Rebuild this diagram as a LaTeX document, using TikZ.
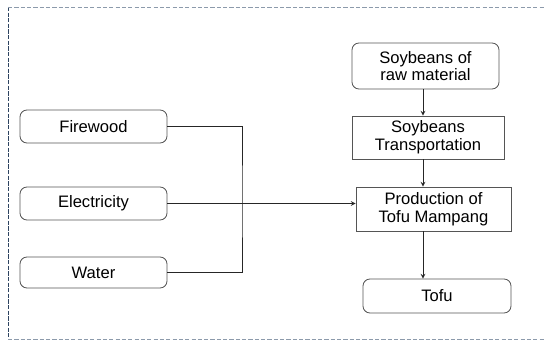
\documentclass[tikz,border=0pt]{standalone}
\usepackage{fontspec}
\setmainfont{Liberation Sans}
\usepackage{xcolor}
\usepackage{tikz}
\usetikzlibrary{positioning}
\definecolor{boxline}{HTML}{555555}
\definecolor{wire}{HTML}{262626}
\definecolor{frameleft}{HTML}{2E4461}
\definecolor{frameedge}{HTML}{8C9AAB}

\begin{document}
\begin{tikzpicture}[
        x=0.025cm, y=-0.025cm,
        every node/.style={
            rectangle,
            draw=boxline,
            line width=0.6pt,
            text=black,
            align=center,
            font=\fontsize{11.8}{12.6}\selectfont,
            inner sep=2pt,
            anchor=center
        },
        roundbox/.style={
            rounded corners=5pt,
            minimum width=3.675cm
        },
        sharpbox/.style={
            sharp corners
        },
        arrow/.style={
            ->,
            >=stealth,
            line width=0.5pt,
            color=wire
        },
        link/.style={
            line width=0.5pt,
            color=wire
        }
    ]
        \useasboundingbox (0,0) rectangle (547,340);

        % Frame
        \draw[frameleft, line width=0.6pt, dash pattern=on 3pt off 1pt] (8,7) -- (8,339);
        \draw[frameedge, line width=0.6pt, dash pattern=on 3pt off 1.5pt] (8,7) -- (545,7);
        \draw[frameedge, line width=0.6pt, dash pattern=on 3pt off 1.5pt] (8,339) -- (545,339);

        % Inputs
        \node (fire) [roundbox, minimum height=0.825cm] at (93.5,126.5) {Firewood};
        \node (elec) [roundbox, minimum height=0.825cm] at (93.5,203.5) {Electricity};
        \node (water) [roundbox, minimum height=0.775cm] at (93.5,272.5) {Water};

        % Main chain
        \node (raw) [roundbox, minimum width=3.675cm, minimum height=1.15cm] at (425.5,66) {Soybeans of\\raw material};
        \node (trans) [sharpbox, minimum width=3.8cm, minimum height=1.075cm] at (428,137.5) {Soybeans\\Transportation};
        \node (prod) [sharpbox, minimum width=3.875cm, minimum height=1.1cm] at (433.5,209) {Production of\\Tofu Mampang};
        \node (tofu) [roundbox, minimum width=3.7cm, minimum height=0.85cm] at (437,296) {Tofu};

        \coordinate (axis) at (423,0);
        \coordinate (bus) at (242,203.5);

        % Edges chain
        \draw[arrow] (raw.south -| axis) -- (trans.north -| axis);
        \draw[arrow] (trans.south -| axis) -- (prod.north -| axis);
        \draw[arrow] (prod.south -| axis) -- (tofu.north -| axis);

        % Inputs -> production
        \draw[link] (fire.east) -| (bus) |- (water.east);
        \draw[arrow] (elec.east) -- (elec.east -| prod.west);

    \end{tikzpicture}
\end{document}
